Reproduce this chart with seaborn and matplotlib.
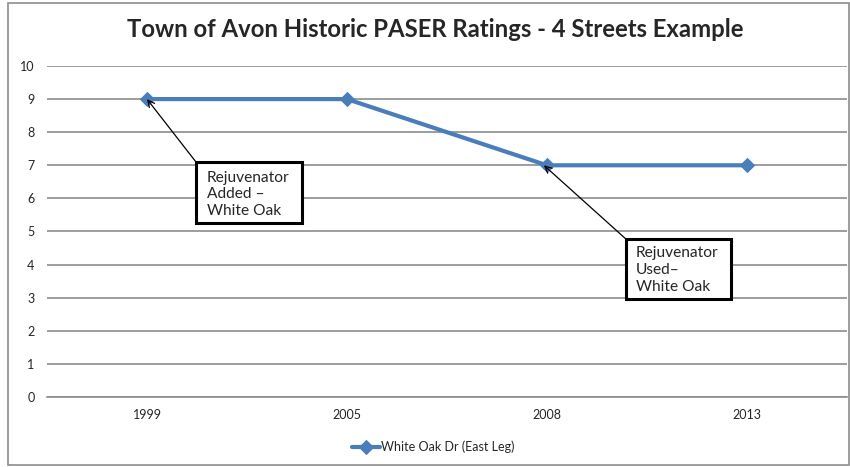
import matplotlib
matplotlib.use("Agg")
import matplotlib.pyplot as plt
import seaborn as sns
import pandas as pd
from matplotlib.patches import Rectangle

years = ["1999", "2005", "2008", "2013"]
ratings = [9, 9, 7, 7]
series_name = "White Oak Dr (East Leg)"
title = "Town of Avon Historic PASER Ratings - 4 Streets Example"
yticks = list(range(0, 11))
note1 = "Rejuvenator\nAdded \u2013\nWhite Oak"
note2 = "Rejuvenator\nUsed\u2013\nWhite Oak"

sns.set_theme(style="white")
plt.rcParams["font.family"] = ["Lato", "DejaVu Sans"]

df = pd.DataFrame({"pos": range(len(years)), "rating": ratings, "series": series_name})

fig = plt.figure(figsize=(8.5, 4.67), dpi=100)
ax = fig.add_axes([0.0553, 0.1499, 0.941, 0.7088])

line_color = "#4a7ebb"
sns.lineplot(data=df, x="pos", y="rating", ax=ax, color=line_color, linewidth=3,
             marker="D", markersize=7, markeredgecolor=line_color, label=series_name,
             legend=False)

ax.set_xlim(-0.5, len(years) - 0.5)
ax.set_ylim(0, 10)
ax.set_yticks(yticks)
ax.set_yticklabels([str(v) for v in yticks], fontsize=9)
ax.set_xticks(range(len(years)))
ax.set_xticklabels(years, fontsize=9)
ax.tick_params(axis="y", length=0, pad=9)
ax.tick_params(axis="x", length=0, pad=9)
ax.yaxis.grid(True, color="#8c8c8c", linewidth=1.2)
ax.set_axisbelow(True)
for s in ["top", "right", "left"]:
    ax.spines[s].set_visible(False)
ax.spines["bottom"].set_color("#8c8c8c")
ax.spines["bottom"].set_linewidth(1.2)
ax.set_xlabel("")
ax.set_ylabel("")

fig.text(0.512, 0.936, title, ha="center", va="center", fontsize=17.2, fontweight="bold",
         family=["Lato", "DejaVu Sans"])

# annotation boxes
arrow_kw = dict(arrowstyle="->", color="black", lw=0.9, shrinkA=0, shrinkB=0)
box_kw = dict(fc="white", ec="black", lw=2.2, zorder=5)

ax.add_patch(Rectangle((0.245, 5.257), 0.53, 1.843, **box_kw))
ax.text(0.30, 6.84, note1, ha="left", va="top", fontsize=11.2, linespacing=1.25, zorder=6)
ax.annotate("", xy=(0.0, 9.0), xytext=(0.245, 7.10), arrowprops=arrow_kw, zorder=6)

ax.add_patch(Rectangle((2.395, 2.96), 0.525, 1.813, **box_kw))
ax.text(2.445, 4.55, note2, ha="left", va="top", fontsize=11.2, linespacing=1.25, zorder=6)
ax.annotate("", xy=(1.985, 7.0), xytext=(2.395, 4.773), arrowprops=arrow_kw, zorder=6)

handles, labels = ax.get_legend_handles_labels()
fig.legend(handles, labels, loc="center", bbox_to_anchor=(0.51, 0.043), frameon=False,
           fontsize=9, handlelength=2.2, handletextpad=0.1)

fig.patches.append(Rectangle((8 / 850, 2 / 467), 841 / 850, 462 / 467, transform=fig.transFigure,
                             fill=False, ec="#8c8c8c", lw=1.2))

fig.savefig("out.png", dpi=100)
